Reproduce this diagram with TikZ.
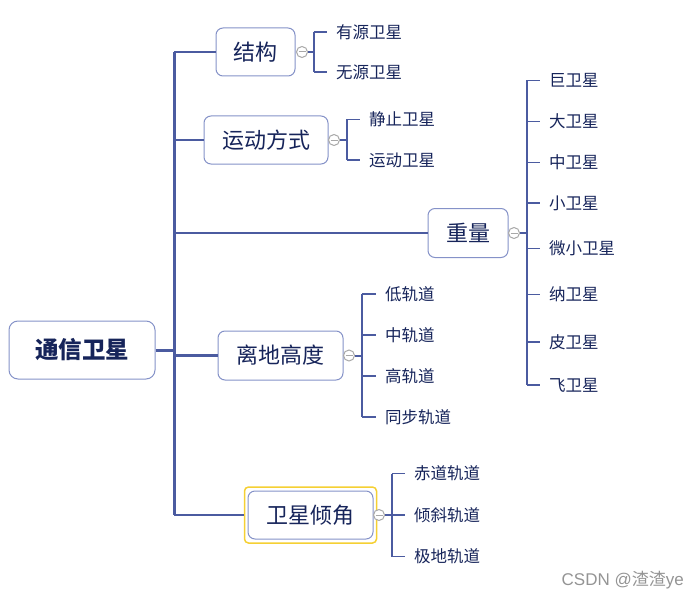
\documentclass[tikz,border=0pt]{standalone}
\usepackage{fontspec}
\setmainfont{Noto Sans CJK SC}
\newfontfamily\wmlat{Liberation Sans}
\definecolor{linec}{HTML}{4B5BA0}
\definecolor{boxc}{HTML}{8592C8}
\definecolor{txtc}{HTML}{16245A}
\definecolor{circc}{HTML}{A8A8A8}
\definecolor{yel}{HTML}{F5D033}
\tikzset{
  topic/.style={draw=boxc, line width=1pt, rounded corners=7pt, fill=white, text=txtc,
    font=\fontsize{22}{24}\selectfont, inner sep=0pt, minimum height=48pt},
  rootbox/.style={topic, font=\fontsize{23.5}{26}\selectfont\bfseries, rounded corners=9pt},
  leaf/.style={text=txtc, font=\fontsize{16.5}{18}\selectfont, anchor=west, inner xsep=9pt, inner ysep=0pt},
  trunk/.style={draw=linec, line width=3pt},
  branch/.style={draw=linec, line width=2.3pt},
  br/.style={draw=linec, line width=2pt},
  tick/.style={draw=linec, line width=1.6pt},
  knob/.style={circle, draw=circc, line width=1pt, fill=white, minimum size=11pt, inner sep=0pt},
  knobline/.style={draw=circc, line width=1pt}
}
\begin{document}
\begin{tikzpicture}[x=1pt,y=-1pt]
\useasboundingbox (0,0) rectangle (698,599);
% root
\node[rootbox, minimum width=146pt, minimum height=58pt] (root) at (82,350) {通信卫星};
\coordinate (t) at (174,0);
% topics
\node[topic, minimum width=79pt] (jg) at (255.5,52) {结构};
\node[topic, minimum width=124pt] (yd) at (266,140) {运动方式};
\node[topic, minimum width=80pt, minimum height=49pt] (zl) at (468,233) {重量};
\node[topic, minimum width=125pt, minimum height=49pt] (ld) at (280.5,355.5) {离地高度};
\node[draw=yel, line width=1.5pt, rounded corners=4pt, minimum width=132pt, minimum height=56pt] (qjo) at (310.5,515) {};
\node[topic, minimum width=125pt] (qj) at (310.5,515) {卫星倾角};
% trunk
\draw[trunk] (root.east) -- (t |- root.east);
\draw[trunk] (t |- jg.west) -- (t |- qj.west);
\draw[branch] (t |- jg.west) -- (jg.west);
\draw[branch] (t |- yd.west) -- (yd.west);
\draw[branch] (t |- zl.west) -- (zl.west);
\draw[branch] (t |- ld.west) -- (ld.west);
\draw[branch] (t |- qj.west) -- (qjo.west);
% knobs
\node[knob] (k1) at (302,52) {};
\node[knob] (k2) at (334,140) {};
\node[knob] (k3) at (514,233) {};
\node[knob] (k4) at (349,355.5) {};
\node[knob] (k5) at (379,515) {};
\foreach \k in {k1,k2,k3,k4,k5}{\draw[knobline] ([xshift=2.5pt]\k.west) -- ([xshift=-2.5pt]\k.east);}
% brackets coordinates
\coordinate (b1) at (313.5,0);
\coordinate (b2) at (347,0);
\coordinate (b3) at (526.5,0);
\coordinate (b4) at (362,0);
\coordinate (b5) at (392,0);
% leaves: structure
\node[leaf] (a1) at (327,32) {有源卫星};
\node[leaf] (a2) at (327,72) {无源卫星};
\draw[br] (k1.east) -- (b1 |- k1.east);
\draw[br] (b1 |- a1.west) -- (b1 |- a2.west);
\foreach \c in {a1,a2}{\draw[tick] (b1 |- \c.west) -- (\c.west);}
% motion
\node[leaf] (m1) at (360,119.5) {静止卫星};
\node[leaf] (m2) at (360,160) {运动卫星};
\draw[br] (k2.east) -- (b2 |- k2.east);
\draw[br] (b2 |- m1.west) -- (b2 |- m2.west);
\foreach \c in {m1,m2}{\draw[tick] (b2 |- \c.west) -- (\c.west);}
% weight
\node[leaf] (w1) at (540,80.5) {巨卫星};
\node[leaf] (w2) at (540,121.5) {大卫星};
\node[leaf] (w3) at (540,162.5) {中卫星};
\node[leaf] (w4) at (540,203) {小卫星};
\node[leaf] (w5) at (540,248.5) {微小卫星};
\node[leaf] (w6) at (540,294.5) {纳卫星};
\node[leaf] (w7) at (540,342) {皮卫星};
\node[leaf] (w8) at (540,385) {飞卫星};
\draw[br] (k3.east) -- (b3 |- k3.east);
\draw[br] (b3 |- w1.west) -- (b3 |- w8.west);
\foreach \c in {w1,w2,w3,w4,w5,w6,w7,w8}{\draw[tick] (b3 |- \c.west) -- (\c.west);}
% altitude
\node[leaf] (h1) at (376,294) {低轨道};
\node[leaf] (h2) at (376,335) {中轨道};
\node[leaf] (h3) at (376,376) {高轨道};
\node[leaf] (h4) at (376,417) {同步轨道};
\draw[br] (k4.east) -- (b4 |- k4.east);
\draw[br] (b4 |- h1.west) -- (b4 |- h4.west);
\foreach \c in {h1,h2,h3,h4}{\draw[tick] (b4 |- \c.west) -- (\c.west);}
% inclination
\node[leaf] (i1) at (405,473.5) {赤道轨道};
\node[leaf] (i2) at (405,515) {倾斜轨道};
\node[leaf] (i3) at (405,556.5) {极地轨道};
\draw[br] (k5.east) -- (b5 |- k5.east);
\draw[br] (b5 |- i1.west) -- (b5 |- i3.west);
\foreach \c in {i1,i2,i3}{\draw[tick] (b5 |- \c.west) -- (\c.west);}
% watermark
\node[text=black!42, font=\fontsize{17}{19}\selectfont, anchor=east, inner sep=0pt] (wm) at (684,580) {{\wmlat CSDN @}渣渣{\wmlat ye}};
\end{tikzpicture}
\end{document}
